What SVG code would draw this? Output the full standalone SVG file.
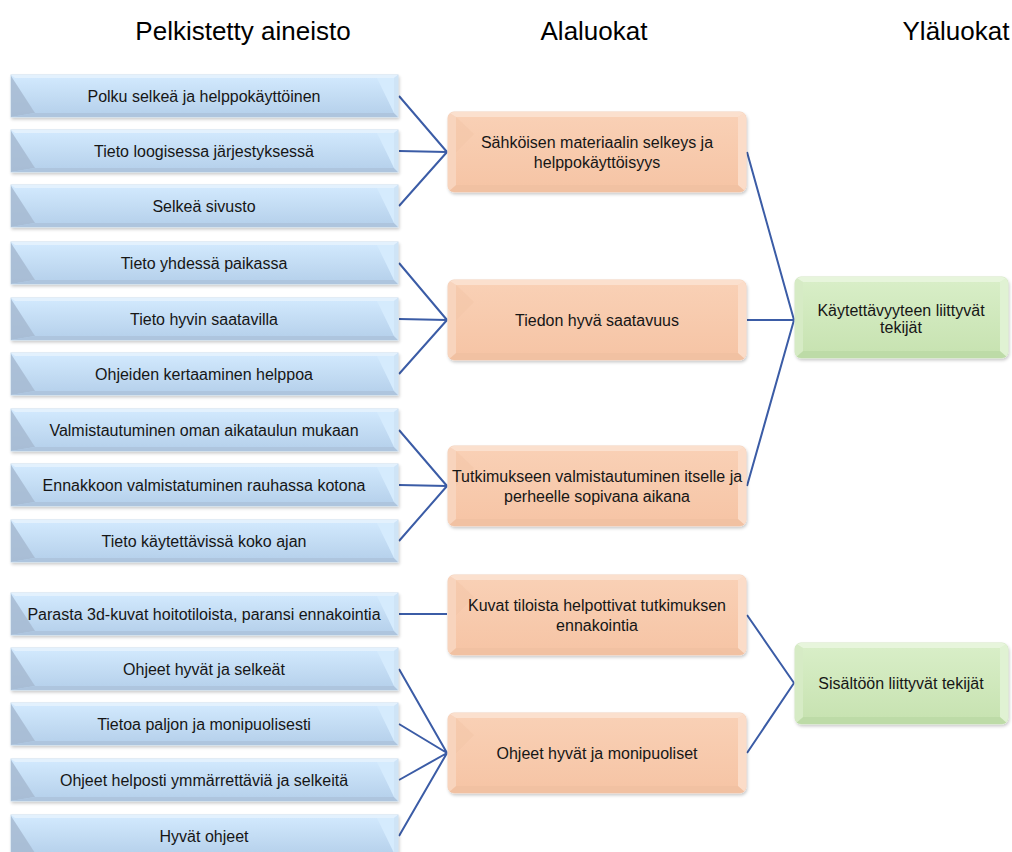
<svg xmlns="http://www.w3.org/2000/svg" xmlns:xlink="http://www.w3.org/1999/xlink" width="1012" height="852" viewBox="0 0 1012 852">
<style>
.hdr{font-family:"Liberation Sans",Arial,sans-serif;font-size:26px;fill:#000;text-anchor:middle}
.t{font-family:"Liberation Sans",Arial,sans-serif;font-size:16px;fill:#161616;text-anchor:middle}
.con{stroke:#3b5ca6;stroke-width:2;fill:none}
</style>
<defs>
<filter id="sh" x="-5%" y="-20%" width="110%" height="150%">
<feDropShadow dx="1" dy="2" stdDeviation="1.5" flood-color="#000" flood-opacity="0.2"/>
</filter>
<linearGradient id="gBlue" x1="0" y1="0" x2="0" y2="1">
<stop offset="0" stop-color="#d3eafe"/><stop offset="1" stop-color="#b4cfea"/>
</linearGradient>
<linearGradient id="gOr" x1="0" y1="0" x2="0" y2="1">
<stop offset="0" stop-color="#f9d0b5"/><stop offset="1" stop-color="#f6c5a6"/>
</linearGradient>
<linearGradient id="gGr" x1="0" y1="0" x2="0" y2="1">
<stop offset="0" stop-color="#d8eec7"/><stop offset="1" stop-color="#c8e3b2"/>
</linearGradient>
<clipPath id="cOr"><rect x="0" y="0" width="298" height="80" rx="6"/></clipPath>
<clipPath id="cGr"><rect x="0" y="0" width="213" height="81" rx="6"/></clipPath>
<g id="blueShape">
<rect x="0" y="0" width="387" height="42" fill="url(#gBlue)" stroke="#c8dbee" stroke-width="1" filter="url(#sh)"/>
<polygon points="0,0 387,0 383,3 4,3" fill="#e3f1fd"/>
<polygon points="0,1 24,38 0,42" fill="#a6bad1" opacity="0.85"/>
<polygon points="0,42 387,42 383,38 24,38" fill="#aec5de"/>
<polygon points="366,3 383,3 383,38" fill="#d5ebfd"/>
<polygon points="387,0 387,42 383,38 383,3" fill="#cfe4f6"/>
</g>
<g id="orShape">
<rect x="0" y="0" width="298" height="80" rx="6" fill="#f9d8c3" stroke="#f1d0bb" stroke-width="1" filter="url(#sh)"/>
<g clip-path="url(#cOr)">
<polygon points="0,0 298,0 290,5 8,5" fill="#fbe0ce"/>
<polygon points="0,0 8,5 8,73 0,80" fill="#f8d4bd"/>
<polygon points="298,0 298,80 290,73 290,5" fill="#fbdcc8"/>
<polygon points="0,80 298,80 290,73 8,73" fill="#f1c1a2"/>
<rect x="8" y="5" width="282" height="68" fill="url(#gOr)"/>
<polygon points="8,5 26,22 8,40" fill="#f3c6a8" opacity="0.6"/>
</g>
</g>
<g id="grShape">
<rect x="0" y="0" width="213" height="81" rx="6" fill="#ddf0cf" stroke="#d2e6c3" stroke-width="1" filter="url(#sh)"/>
<g clip-path="url(#cGr)">
<polygon points="0,0 213,0 205,5 8,5" fill="#e7f5dc"/>
<polygon points="0,0 8,5 8,74 0,81" fill="#d6ebc5"/>
<polygon points="213,0 213,81 205,74 205,5" fill="#e0f2d3"/>
<polygon points="0,81 213,81 205,74 8,74" fill="#bddba7"/>
<rect x="8" y="5" width="197" height="69" fill="url(#gGr)"/>
</g>
</g>
</defs>
<rect width="1012" height="852" fill="#fff"/>

<g id="headers">
<text class="hdr" x="243" y="40">Pelkistetty aineisto</text>
<text class="hdr" x="594" y="40">Alaluokat</text>
<text class="hdr" x="956" y="40">Yläluokat</text>
</g>

<g id="connectors">
<path class="con" d="M399,96 L447,152 M399,151 L447,152 M399,206 L447,152"/>
<path class="con" d="M399,263 L447,320 M399,319 L447,320 M399,374 L447,320"/>
<path class="con" d="M399,430 L447,486 M399,485 L447,486 M399,541 L447,486"/>
<path class="con" d="M399,614 L447,614"/>
<path class="con" d="M399,669 L447,753 M399,724 L447,753 M399,780 L447,753 M399,836 L447,753"/>
<path class="con" d="M747,152 L794,320 M747,320 L794,320 M747,486 L794,320"/>
<path class="con" d="M747,615 L794,683 M747,753 L794,683"/>
</g>

<g id="b1"><use xlink:href="#blueShape" x="11" y="75"/><text class="t" x="204" y="102">Polku selkeä ja helppokäyttöinen</text></g>
<g id="b2"><use xlink:href="#blueShape" x="11" y="130"/><text class="t" x="204" y="157">Tieto loogisessa järjestyksessä</text></g>
<g id="b3"><use xlink:href="#blueShape" x="11" y="185"/><text class="t" x="204" y="212">Selkeä sivusto</text></g>
<g id="b4"><use xlink:href="#blueShape" x="11" y="242"/><text class="t" x="204" y="269">Tieto yhdessä paikassa</text></g>
<g id="b5"><use xlink:href="#blueShape" x="11" y="298"/><text class="t" x="204" y="325">Tieto hyvin saatavilla</text></g>
<g id="b6"><use xlink:href="#blueShape" x="11" y="353"/><text class="t" x="204" y="380">Ohjeiden kertaaminen helppoa</text></g>
<g id="b7"><use xlink:href="#blueShape" x="11" y="409"/><text class="t" x="204" y="436">Valmistautuminen oman aikataulun mukaan</text></g>
<g id="b8"><use xlink:href="#blueShape" x="11" y="464"/><text class="t" x="204" y="491">Ennakkoon valmistatuminen rauhassa kotona</text></g>
<g id="b9"><use xlink:href="#blueShape" x="11" y="520"/><text class="t" x="204" y="547">Tieto käytettävissä koko ajan</text></g>
<g id="b10"><use xlink:href="#blueShape" x="11" y="593"/><text class="t" x="204" y="620">Parasta 3d-kuvat hoitotiloista, paransi ennakointia</text></g>
<g id="b11"><use xlink:href="#blueShape" x="11" y="648"/><text class="t" x="204" y="675">Ohjeet hyvät ja selkeät</text></g>
<g id="b12"><use xlink:href="#blueShape" x="11" y="703"/><text class="t" x="204" y="730">Tietoa paljon ja monipuolisesti</text></g>
<g id="b13"><use xlink:href="#blueShape" x="11" y="759"/><text class="t" x="204" y="786">Ohjeet helposti ymmärrettäviä ja selkeitä</text></g>
<g id="b14"><use xlink:href="#blueShape" x="11" y="815"/><text class="t" x="204" y="842">Hyvät ohjeet</text></g>

<g id="o1"><use xlink:href="#orShape" x="448" y="112"/><text class="t" x="597" y="148">Sähköisen materiaalin selkeys ja</text><text class="t" x="597" y="168">helppokäyttöisyys</text></g>
<g id="o2"><use xlink:href="#orShape" x="448" y="280"/><text class="t" x="597" y="326">Tiedon hyvä saatavuus</text></g>
<g id="o3"><use xlink:href="#orShape" x="448" y="446"/><text class="t" x="597" y="482">Tutkimukseen valmistautuminen itselle ja</text><text class="t" x="597" y="502">perheelle sopivana aikana</text></g>
<g id="o4"><use xlink:href="#orShape" x="448" y="575"/><text class="t" x="597" y="611">Kuvat tiloista helpottivat tutkimuksen</text><text class="t" x="597" y="631">ennakointia</text></g>
<g id="o5"><use xlink:href="#orShape" x="448" y="713"/><text class="t" x="597" y="759">Ohjeet hyvät ja monipuoliset</text></g>

<g id="g1"><use xlink:href="#grShape" x="795" y="277"/><text class="t" x="901" y="316">Käytettävyyteen liittyvät</text><text class="t" x="901" y="333">tekijät</text></g>
<g id="g2"><use xlink:href="#grShape" x="795" y="643"/><text class="t" x="901" y="689">Sisältöön liittyvät tekijät</text></g>
</svg>
